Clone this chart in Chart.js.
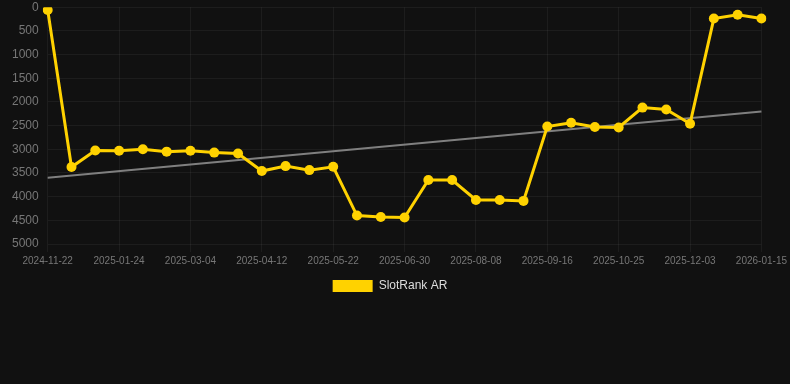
<!DOCTYPE html>
<html>
<head>
<meta charset="utf-8">
<script src="https://cdn.jsdelivr.net/npm/chart.js@4/dist/chart.umd.min.js"></script>
<style>
  html, body { margin: 0; padding: 0; background: #111111; }
  #wrap { position: relative; width: 790px; height: 302px; }
</style>
</head>
<body>
<div id="wrap"><canvas id="c"></canvas></div>
<script>
const labels = [
  "2024-11-22","2024-12-13","2025-01-03","2025-01-24","2025-02-06","2025-02-19",
  "2025-03-04","2025-03-17","2025-03-30","2025-04-12","2025-04-25","2025-05-08",
  "2025-05-22","2025-06-04","2025-06-17","2025-06-30","2025-07-13","2025-07-26",
  "2025-08-08","2025-08-21","2025-09-03","2025-09-16","2025-09-29","2025-10-12",
  "2025-10-25","2025-11-07","2025-11-20","2025-12-03","2025-12-17","2025-12-31",
  "2026-01-15"
];
const rankValues = [
  60, 3375, 3025, 3030, 3000, 3050, 3030, 3070, 3090, 3460, 3355, 3440,
  3370, 4400, 4430, 4440, 3650, 3650, 4070, 4070, 4090, 2520, 2440, 2530,
  2540, 2120, 2160, 2460, 240, 160, 240
];
const trendStart = 3600;
const trendEnd = 2200;
const trendValues = labels.map((_, i) => i === 0 ? trendStart : (i === labels.length - 1 ? trendEnd : null));
const yTicks = [0, 500, 1000, 1500, 2000, 2500, 3000, 3500, 4000, 4500, 5000];

const FONT = "Helvetica, Arial, 'Liberation Sans', sans-serif";
const YELLOW = '#FFD200';

const legendShift = {
  id: 'legendShift',
  afterLayout(chart) {
    if (chart.legend) { chart.legend.right -= 22; }
  }
};

new Chart(document.getElementById('c'), {
  type: 'line',
  plugins: [legendShift],
  data: {
    labels: labels,
    datasets: [
      {
        label: 'SlotRank AR',
        data: rankValues,
        borderColor: YELLOW,
        backgroundColor: YELLOW,
        borderWidth: 3,
        pointRadius: 5,
        pointHoverRadius: 5,
        pointBackgroundColor: YELLOW,
        pointBorderColor: YELLOW,
        pointBorderWidth: 0,
        tension: 0,
        fill: false,
        order: 0
      },
      {
        label: 'trend',
        data: trendValues,
        borderColor: 'rgba(140,140,140,0.9)',
        borderWidth: 2,
        pointRadius: 0,
        spanGaps: true,
        fill: false,
        order: 1
      }
    ]
  },
  options: {
    responsive: true,
    maintainAspectRatio: false,
    animation: false,
    layout: { padding: { left: 12, right: 0, top: 0, bottom: 0 } },
    plugins: {
      tooltip: { enabled: false },
      legend: {
        position: 'bottom',
        labels: {
          color: '#dddddd',
          font: { family: FONT, size: 12 },
          boxWidth: 40,
          boxHeight: 12,
          generateLabels: (chart) => [{
            text: chart.data.datasets[0].label,
            fillStyle: YELLOW,
            strokeStyle: YELLOW,
            lineWidth: 0,
            fontColor: '#dddddd',
            hidden: false,
            datasetIndex: 0
          }]
        }
      }
    },
    scales: {
      x: {
        grid: { color: 'rgba(255,255,255,0.05)', drawTicks: true, tickLength: 8 },
        border: { display: false },
        ticks: {
          color: '#777777',
          font: { family: FONT, size: 10 },
          maxRotation: 0,
          minRotation: 0,
          autoSkip: true,
          maxTicksLimit: 11,
          padding: 3
        }
      },
      y: {
        reverse: true,
        min: 0,
        max: 5000,
        afterBuildTicks: (axis) => { axis.ticks = yTicks.map(v => ({ value: v })); },
        grid: { color: 'rgba(255,255,255,0.05)', drawTicks: true, tickLength: 9, tickColor: 'rgba(0,0,0,0)' },
        border: { display: false },
        ticks: {
          color: '#777777',
          font: { family: FONT, size: 12 },
          padding: 0,
          callback: (v) => String(v)
        }
      }
    }
  }
});
</script>
</body>
</html>
